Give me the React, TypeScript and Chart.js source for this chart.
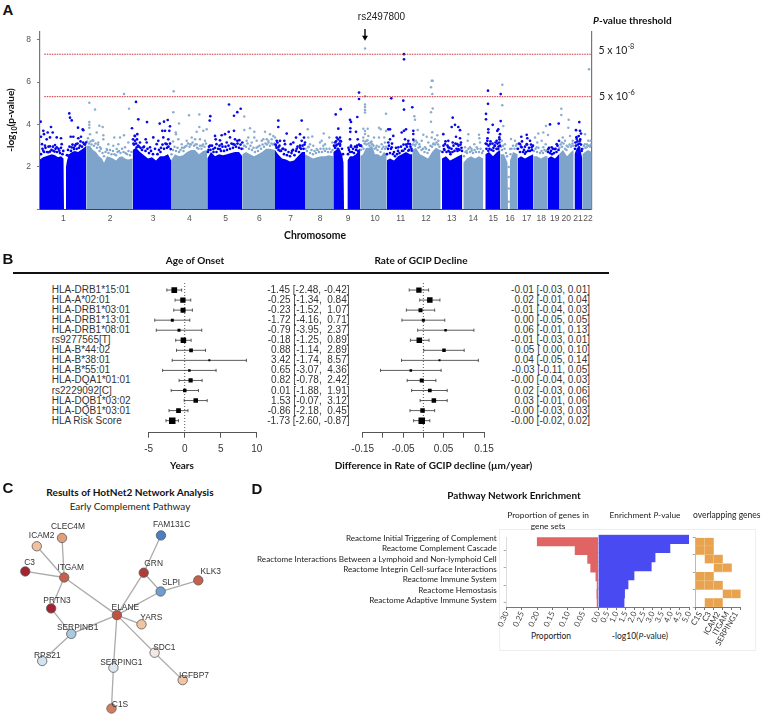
import React, { useEffect, useRef } from "react";
import { Chart, registerables } from "chart.js";
Chart.register(...registerables);

const SANS = '"Liberation Sans", Arial, sans-serif';
const CAL = 'Lato, "Open Sans", sans-serif';

/* ---------- Panel A data: position along genome axis, -log10(p) ---------- */
const chromNames = ["1","2","3","4","5","6","7","8","9","10","11","12","13","14","15","16","17","18","19","20","21","22"];
const chromCenters = [23.3,70,113,149.3,185.7,219.3,250.7,280,308,335,360.7,386,411.7,433.3,453.3,470,486.7,501.3,514.7,526.3,538,548];
const axisMax = 551.7;
const threshold8 = 7.31;
const threshold6 = 5.31;
const leadSnp = 325;

const bodyOdd: number[][] = [
  [0,0, 0,2.35, 3,2.45, 6,2.5, 9,2.55, 12,2.6, 15,2.55, 18,2.45, 21,2.5, 23.5,2.4, 24,0],
  [26,0, 26,2.0, 27,2.3, 29,2.6, 32,2.7, 35,2.75, 38,2.7, 41,2.8, 44,2.9, 46.3,3.0, 46.3,0],
  [92.7,0, 92.7,2.8, 96,2.9, 100,2.7, 104,2.55, 108,2.4, 112,2.45, 116,2.3, 120,2.5, 124,2.5, 128,2.6, 131,2.3, 131,0],
  [167.3,0, 167.3,2.4, 171,2.7, 175,2.5, 179,2.6, 183,2.55, 187,2.6, 191,2.65, 195,2.7, 199,2.7, 202.3,2.5, 202.3,0],
  [235,0, 235,2.8, 238,2.6, 242,2.4, 246,2.35, 250,2.25, 254,2.3, 258,2.5, 262,2.7, 265,2.7, 265,0],
  [293.3,0, 293.3,2.7, 296,2.8, 299,2.9, 302,2.6, 303.5,2.2, 304,0],
  [307.3,0, 307.5,2.3, 310,2.5, 313,2.5, 316,2.6, 320.3,2.9, 320.3,0],
  [346.7,0, 346.7,2.3, 350,2.4, 354,2.3, 358,2.5, 362,2.6, 366,2.7, 370,2.6, 372.3,2.6, 372.3,0],
  [402,0, 402,2.4, 406,2.5, 410,2.3, 414,2.4, 418,2.5, 422.3,2.6, 422.3,0],
  [445.3,0, 445.3,2.6, 449,2.7, 453,2.5, 457,2.7, 460.3,2.8, 460.3,0],
  [477.7,0, 477.7,2.4, 481,2.5, 485,2.4, 489,2.5, 493.3,2.6, 493.3,0],
  [507.7,0, 507.7,2.4, 511,2.5, 515,2.4, 519,2.6, 519,0],
  [534.5,0, 534.5,2.6, 537,2.9, 540,2.9, 542.3,2.4, 542.3,0],
];
const bodyEven: number[][] = [
  [46.3,0, 46.3,3.0, 50,3.0, 53,2.8, 56,2.7, 59,2.5, 62,2.4, 64,2.2, 67,2.5, 70,2.45, 73,2.4, 76,2.3, 79,2.45, 82,2.5, 85,2.4, 88,2.35, 92.7,2.4, 92.7,0],
  [131,0, 131,2.3, 135,2.6, 139,2.5, 143,2.55, 147,2.7, 151,2.8, 155,2.8, 159,2.6, 163,2.75, 167.3,2.8, 167.3,0],
  [202.3,0, 202.3,2.6, 206,2.7, 210,2.6, 214,2.5, 218,2.6, 222,2.7, 226,2.85, 230,2.85, 235,2.8, 235,0],
  [265,0, 265,2.6, 269,2.5, 273,2.4, 277,2.45, 281,2.5, 285,2.5, 289,2.55, 293.3,2.5, 293.3,0],
  [320.3,0, 320.3,2.5, 323,2.6, 326,2.9, 329,2.9, 332,3.0, 335,2.6, 338,2.6, 341,2.5, 344,2.7, 346.7,2.6, 346.7,0],
  [372.3,0, 372.3,2.8, 376,2.9, 380,2.6, 384,2.5, 388,2.4, 392,2.7, 396,2.9, 400,2.8, 400.7,2.3, 400.7,0],
  [423.3,0, 423.3,2.2, 427,2.4, 431,2.5, 435,2.4, 439,2.5, 443.3,2.4, 443.3,0],
  [460.3,0, 460.3,2.6, 464,2.6, 467.5,2.2, 468,0],
  [469.5,0, 470,2.3, 473,2.7, 477.7,2.6, 477.7,0],
  [493.3,0, 493.3,2.5, 497,2.5, 501,2.4, 505,2.5, 507.7,2.5, 507.7,0],
  [519,0, 519,2.6, 523,2.8, 527,2.5, 531,2.7, 533.7,2.8, 533.7,0],
  [542.3,0, 542.3,2.6, 545,2.7, 548,2.8, 551.7,2.7, 551.7,0],
];

const snpsOdd = [
  0.7,4.13, 1,3.42, 3.3,3.7, 4,3.54, 2,3.07, 5,3.0, 6.7,3.3, 7.7,3.62, 11,3.88, 10,3.39, 10,2.97, 12.7,3.62, 15,3.03, 16.7,3.39, 16.7,2.92, 21,3.35, 21.7,3.07, 19.3,2.76, 3.3,2.76, 8.3,2.69, 13.3,2.76,
  29.3,4.52, 30,4.32, 31.7,4.19, 30.7,3.42, 33.3,3.42, 38,3.85, 42.7,3.77, 43.3,3.73, 41,3.42, 38.3,3.35, 36,3.07, 31.7,2.92, 28.3,2.53, 34,2.84, 40,3.0, 44.3,3.07, 46,3.15,
  96,5.06, 98.3,4.24, 92,3.82, 107,4.11, 119.7,4.04, 124,4.13, 127.7,4.21, 122.3,3.7, 125,3.7, 130,3.91, 129.3,3.7, 94.7,3.46, 97.3,3.54, 95,3.23, 100,3.15, 105.7,3.3, 106.7,3.15, 113.3,3.39, 118.3,3.23, 123.3,3.39, 128.3,3.3, 96.7,2.92, 103.3,2.92, 110,2.92, 116.7,3.07, 126.7,3.07, 130.7,2.84, 93.5,3.1, 99,2.95, 121,2.9,
  170.3,4.39, 169.7,4.18, 189,4.94, 194,4.41, 197.3,4.58, 200.7,4.74, 175,3.46, 181.7,3.49, 185,3.54, 188.7,3.65, 194,3.7, 175.7,3.3, 180,3.25, 190,3.39, 195,3.3, 199.3,3.26, 202.3,3.15, 170,3.0, 176.5,3.07, 181.7,3.07, 186.7,3.15, 193.3,3.07, 197.3,3.23, 173.3,2.84, 180,2.84, 168.5,2.8,
  238.3,4.18, 238.3,3.88, 261.7,4.18, 246.7,3.57, 260,3.54, 256,3.38, 264,3.38, 236.7,3.23, 240,3.23, 244.3,3.23, 245,3.07, 250.7,3.07, 253.3,3.15, 261.7,3.23, 265,3.15, 238.3,2.92, 243.3,2.85, 256.7,2.85, 236,3.0, 240,2.75, 252,2.75, 260,2.9,
  295.7,4.47, 300.7,4.72, 298.3,3.8, 300,3.38, 296.7,3.38, 295,3.15, 300,3.23, 296,3.0, 300,3.07, 297.7,2.85,
  310,4.22, 311,4.12, 310.3,3.82, 310.3,3.65, 316,3.65, 317.3,4.35, 319,5.2, 319,5.5, 310,3.3, 317.7,3.3, 311,3.0, 316.7,2.92, 321,3.0, 308.5,2.9,
  364,7.31, 364,7.07, 363.3,5.12, 364,4.7, 372.3,4.81, 351.3,5.23, 366,3.77, 364,3.7, 361.7,3.62, 350,3.77, 348.3,3.77, 353.3,3.46, 350,3.3, 348.3,3.15, 368.3,3.23, 365,3.3, 370,3.07, 351.7,2.92, 358.3,2.92, 363.3,2.76, 368.3,2.76, 371.7,2.76, 373.3,3.7, 373.3,3.55, 373.3,3.28,
  412.7,4.32, 411.7,3.88, 415,3.98, 418.3,3.88, 420,3.73, 403.3,3.54, 416,3.42, 420,3.35, 408.3,3.23, 405,3.07, 404,2.84, 408.3,2.92, 412.7,3.15, 417.3,3.07, 421,3.15, 418.3,2.84, 410,2.69,
  448,5.59, 448,4.97, 446,4.5, 446,4.24, 448.3,3.77, 448.3,3.62, 452.7,3.98, 447.3,3.23, 458.3,3.77, 457.3,3.7, 460,3.54, 460.7,4.16, 460.7,5.43, 459.3,3.39, 456.7,3.23, 459.3,3.15, 455,3.0, 450,3.07, 446.7,3.07, 453.3,2.76, 448.3,2.76, 458.3,2.84,
  481.3,3.42, 486.7,3.51, 487.3,3.35, 480,3.07, 486.7,3.07, 481.7,2.92, 490,3.23, 491.7,2.92, 485,2.62,
  510,4.0, 518.7,4.04, 508.3,2.84, 511.7,2.92, 516.7,3.07, 519,3.23, 515,2.84,
  539.3,4.11, 536,3.73, 540,3.7, 541,3.57, 536.7,3.31, 540,3.23, 536,3.0, 539,2.92, 541.7,2.84, 537.3,2.69,
];
const shoulderOdd = [
  1,2.6, 2.5,2.85, 4,2.7, 5.5,2.9, 7,2.7, 8.5,2.95, 10,2.72, 11.5,2.8, 13,2.95, 14.5,2.72, 15.5,2.85, 17,2.7, 18.5,2.85, 20,2.65, 21,2.9, 22.5,2.6, 23.3,2.75,
  27,2.55, 28,2.8, 29.5,2.95, 31,2.75, 32.5,3.05, 33.7,2.9, 35,3.0, 36.7,2.85, 37.5,3.1, 39,2.9, 40.5,3.2, 42,2.95, 43,3.15, 45,3.05,
  93,3.3, 94,3.05, 95,3.45, 96,3.1, 97,3.3, 98,3.0, 100.5,2.9, 102,2.8, 104,2.95, 105.5,2.75, 107.5,2.85, 109,2.65, 111,2.75, 113,2.6, 115,2.85, 117.5,2.6, 119,2.8, 120.5,2.7, 122.5,3.05, 124,2.85, 125.5,3.1, 127,2.9, 128.5,2.95, 130,3.1,
  168,2.7, 169,2.95, 170.5,2.8, 172,3.0, 173.5,2.7, 175,2.9, 176.5,2.7, 178,2.85, 179.5,3.0, 181,2.75, 182.5,2.95, 184,2.75, 185.5,2.95, 187,2.8, 188.5,3.0, 190,2.85, 191.5,3.1, 193,2.9, 194.5,3.05, 196,2.95, 197.5,3.1, 199,2.9, 200.5,3.05, 201.5,2.85,
  235.5,3.05, 236.5,2.9, 237.5,3.15, 238.5,2.8, 239.5,3.0, 241,2.75, 242.5,2.85, 244,2.6, 245.5,2.8, 247,2.55, 248.5,2.7, 250,2.5, 251.5,2.65, 253,2.8, 254.5,2.55, 256,2.75, 257.5,2.95, 259,2.7, 260,3.0, 261,2.85, 262.5,3.0, 263.5,2.85, 264.5,3.05,
  294,3.0, 295,2.9, 296,3.2, 297,3.05, 298,3.3, 299,3.1, 300,3.0, 301,3.2, 302,2.85, 303,2.6, 308,2.6, 309,2.8, 310,2.7, 311,2.95, 312,2.7, 313,2.85, 314,2.65, 315,2.95, 316,2.8, 317,3.0, 318,2.75, 319,3.05, 320,3.0,
  347,2.6, 348,2.85, 349,3.0, 350,2.65, 351,2.85, 352,3.1, 353,2.6, 354,2.7, 355,2.5, 356,2.9, 357,2.6, 358,2.75, 359.5,2.65, 361,2.95, 362,2.75, 363.5,3.05, 365,2.85, 366,3.05, 367,2.95, 368,3.1, 369,2.8, 370.5,2.95, 371.5,2.85,
  402.5,2.7, 403.5,3.0, 404.5,2.8, 405.5,3.2, 406.5,2.7, 407.5,3.0, 408.5,2.75, 409.5,2.9, 410.5,2.6, 411.5,2.85, 412.5,2.7, 413.5,3.0, 414.5,2.75, 415.5,3.1, 416.5,2.85, 417.5,2.75, 418.5,3.0, 419.5,2.8, 420.5,3.05, 421.5,2.9, 422,2.75,
  445.7,3.1, 446.5,2.85, 447.5,3.35, 448.5,3.0, 449.5,2.85, 450.5,3.2, 451.5,2.8, 452.5,3.1, 453.5,2.9, 454.5,3.0, 455.5,3.15, 456.5,2.85, 457.5,3.1, 458.5,2.95, 459.5,3.3, 460,3.0,
  478,2.85, 479,3.1, 480,2.7, 481,2.95, 482,3.2, 483,2.7, 484,2.8, 485,2.95, 486,2.7, 487,3.05, 488,2.75, 489,2.9, 490,2.75, 491,3.05, 492,2.8, 493,3.0,
  508,2.7, 509,2.9, 510,2.65, 511,2.75, 512,2.6, 513,2.85, 514,2.65, 515.5,2.85, 516.5,2.7, 517.5,3.0, 518.5,2.8,
  535,2.85, 535.5,3.15, 536.5,3.4, 537.5,3.2, 538,3.05, 538.7,3.45, 539.5,3.1, 540.2,3.3, 541,3.05, 541.7,2.75,
];
const snpsEven = [
  49.3,5.02, 49.3,4.11, 49.3,3.98, 49.3,3.85, 55,4.7, 59.3,3.94, 62.7,3.88, 84,5.43, 89,4.74, 56.7,3.62, 50,3.54, 63.3,3.49, 63.3,3.3, 74.3,3.39, 80,3.39, 84,3.49, 53.3,3.23, 58.3,3.15, 68.3,3.07, 73.3,3.0, 78.3,3.07, 88.3,3.15, 60,2.92, 66.7,2.84, 76.7,2.84, 85,2.92,
  133.7,5.57, 133.3,4.57, 139,4.05, 149,4.43, 159.3,4.47, 135.7,3.62, 136,3.54, 159.3,3.88, 156.7,3.66, 166.7,3.77, 163.3,3.7, 138.3,3.3, 146.7,3.23, 151.7,3.39, 155,3.3, 160,3.3, 165,3.23, 141.7,3.07, 150,3.07, 156.7,3.07, 133,3.2, 144,2.9, 162,3.0,
  204.3,4.37, 204.3,3.74, 210,3.82, 214.3,3.65, 225,3.66, 230,3.54, 233.3,3.46, 208.3,3.39, 216.7,3.23, 223.3,3.3, 228.3,3.23, 214.3,3.38, 235,3.38, 206.7,3.23, 211.7,3.15, 221.7,3.23, 226.7,3.3, 231.7,3.3, 218,2.95, 204,3.0,
  267.7,3.77, 268.3,3.38, 272.3,3.43, 283.7,3.57, 289.3,3.38, 281.7,3.23, 280,3.15, 273.3,3.0, 270,3.07, 285,3.07, 268.3,2.92, 276.7,2.84, 283.3,3.0, 292.3,3.15,
  325,7.58, 325,5.33, 325,4.94, 325,4.82, 325,4.68, 325,4.56, 323.3,3.8, 327.7,3.8, 325,3.69, 325,3.55, 323.3,3.38, 328.3,3.46, 326.7,3.23, 323.3,3.23, 339,3.85, 340.7,3.77, 346,4.5, 346,3.69, 334,3.38, 339,3.38, 344.3,3.38, 331.7,3.07, 336.7,3.0, 341.7,3.07, 345,3.15,
  391.7,6.06, 392.7,6.06, 391,5.75, 392.3,5.43, 392.7,4.75, 391,4.58, 391,4.13, 374.3,4.39, 375,4.22, 377.7,3.74, 392.3,3.63, 383.3,3.51, 386.7,3.42, 391.7,3.39, 397.3,3.49, 395,3.3, 376,3.23, 381.7,3.23, 388.3,3.15, 379.3,3.07, 398.3,3.23, 375,3.0, 385,2.92, 393.3,3.07,
  428.3,3.54, 439,3.51, 439.3,3.35, 427.7,3.23, 434.3,3.07, 440,3.15, 425,2.92, 430,2.92, 436.7,2.92, 431.7,2.76, 426.7,2.76,
  462.3,5.87, 462.3,4.9, 463.3,3.93, 471,3.31, 475,3.23, 465,3.07, 470,2.84, 476.7,3.07, 461.7,3.23, 468.7,0.36, 468.7,0.98, 468.7,1.52, 468.7,1.99,
  498.3,3.57, 495,3.39, 503.3,3.62, 506,3.93, 508,3.5, 497.3,3.15, 501.7,3.23, 496.7,2.92, 503.3,2.92, 505.7,3.07,
  521.3,4.74, 521.3,4.44, 528.7,4.22, 528.3,3.85, 522.7,3.39, 530,3.46, 525,3.23, 532.7,3.23, 526.7,3.0, 531.7,3.0, 521.7,3.15,
  549,6.6, 545,3.54, 548.3,3.23, 550.7,3.23, 545,3.07, 546.7,2.92, 550,3.0,
];
const shoulderEven = [
  47,3.2, 48,3.35, 49,3.1, 50.5,3.2, 51.5,3.05, 52.5,3.25, 54,3.0, 55.5,3.1, 57,2.9, 58,3.05, 59.5,2.75, 61,2.85, 62.5,2.65, 64,2.5, 65.5,2.7, 67,2.8, 68.5,2.65, 70,2.8, 71.5,2.6, 73,2.75, 74.5,2.6, 76,2.55, 77.5,2.7, 79,2.75, 80.5,2.65, 82,2.85, 83.5,2.7, 85.5,2.65, 87,2.6, 88.5,2.75, 90,2.55, 91.5,2.7,
  131.5,2.6, 133,2.8, 134.5,2.95, 136,2.75, 137.5,2.9, 139,2.7, 140.5,2.8, 142,2.9, 143.5,2.75, 145,2.95, 146.5,3.0, 148,3.1, 149.5,2.95, 151,3.05, 152.5,3.15, 154,3.0, 155.5,3.05, 157,2.9, 158.5,2.85, 160,3.0, 161.5,2.85, 163,3.05, 164.5,2.95, 166,3.1,
  203,2.85, 204.5,3.0, 206,2.95, 207.5,3.1, 209,2.85, 210.5,3.0, 212,2.8, 213.5,2.9, 215,2.7, 216.5,2.9, 218,2.75, 219.5,3.0, 221,2.85, 222.5,3.05, 224,2.95, 225.5,3.1, 227,3.05, 228.5,3.15, 230,3.0, 231.5,3.1, 233,3.05, 234.5,3.1,
  265.5,2.85, 267,2.75, 268.5,2.95, 270,2.65, 271.5,2.8, 273,2.6, 274.5,2.75, 276,2.65, 277.5,2.8, 279,2.7, 280.5,2.85, 282,2.7, 283.5,2.85, 285,2.75, 286.5,2.85, 288,2.7, 289.5,2.85, 291,2.7, 292.5,2.8,
  321,2.8, 322,2.95, 323.5,2.85, 324.5,3.1, 325.5,3.2, 326.5,3.05, 327.5,3.25, 328.5,3.1, 329.5,3.0, 330.5,3.15, 331.5,3.2, 332.5,3.05, 333.5,3.0, 334.5,2.85, 336,2.9, 337.5,2.8, 339,2.95, 340.5,2.7, 342,2.85, 343.5,2.95, 345,2.85, 346.3,2.95,
  373,3.05, 374,3.2, 375.5,3.05, 377,3.15, 378.5,2.9, 380,2.95, 381.5,2.8, 383,2.85, 384.5,2.7, 386,2.85, 387.5,2.65, 389,2.8, 390.5,3.0, 392,2.95, 393.5,3.1, 395,3.05, 396.5,3.15, 398,3.05, 399.5,2.95, 400.3,2.75,
  424,2.5, 425.5,2.7, 427,2.65, 428.5,2.85, 430,2.7, 431.5,2.85, 433,2.65, 434.5,2.8, 436,2.7, 437.5,2.85, 439,2.7, 440.5,2.85, 442,2.65, 443,2.75,
  461,2.95, 462,2.8, 463,3.0, 464.5,2.85, 466,2.65, 467,2.5, 470.5,2.6, 471.5,2.85, 473,3.0, 474.5,2.85, 476,3.0, 477,2.85,
  494,2.75, 495.5,2.85, 497,2.7, 498.5,2.9, 500,2.65, 501.5,2.75, 503,2.65, 504.5,2.8, 506,2.75, 507.2,2.8,
  519.5,2.9, 520.5,3.05, 522,2.95, 523.5,3.1, 525,2.85, 526.5,2.8, 528,2.95, 529.5,3.05, 531,2.95, 532.5,3.1, 533.3,3.0,
  543,2.85, 544,3.0, 545.5,2.9, 547,3.05, 548.5,3.0, 550,2.95, 551,3.05,
];

/* ---------- Panel B data ---------- */
const hlaNames = ["HLA-DRB1*15:01","HLA-A*02:01","HLA-DRB1*03:01","HLA-DRB1*13:01","HLA-DRB1*08:01","rs9277565[T]","HLA-B*44:02","HLA-B*38:01","HLA-B*55:01","HLA-DQA1*01:01","rs2229092[C]","HLA-DQB1*03:02","HLA-DQB1*03:01","HLA Risk Score"];
const ageText = ["-1.45 [-2.48, -0.42]","-0.25 [-1.34,  0.84]","-0.23 [-1.52,  1.07]","-1.72 [-4.16,  0.71]","-0.79 [-3.95,  2.37]","-0.18 [-1.25,  0.89]","0.88 [-1.14,  2.89]","3.42 [-1.74,  8.57]","0.65 [-3.07,  4.36]","0.82 [-0.78,  2.42]","0.01 [-1.88,  1.91]","1.53 [-0.07,  3.12]","-0.86 [-2.18,  0.45]","-1.73 [-2.60, -0.87]"];
const ageEst = [-1.45,-0.25,-0.23,-1.72,-0.79,-0.18,0.88,3.42,0.65,0.82,0.01,1.53,-0.86,-1.73];
const ageLo = [-2.48,-1.34,-1.52,-4.16,-3.95,-1.25,-1.14,-1.74,-3.07,-0.78,-1.88,-0.07,-2.18,-2.60];
const ageHi = [-0.42,0.84,1.07,0.71,2.37,0.89,2.89,8.57,4.36,2.42,1.91,3.12,0.45,-0.87];
const ageWeight = [5.7,5.3,5,3,3,5.5,3.7,2,2.5,4.2,3.5,4.5,4.7,6.5];
const rateText = ["-0.01 [-0.03, 0.01]","0.02 [-0.01, 0.04]","-0.01 [-0.04, 0.03]","0.00 [-0.05, 0.05]","0.06 [-0.01, 0.13]","-0.01 [-0.03, 0.01]","0.05 [ 0.00, 0.10]","0.04 [-0.05, 0.14]","-0.03 [-0.11, 0.05]","-0.00 [-0.04, 0.03]","0.02 [-0.03, 0.06]","0.03 [-0.01, 0.06]","-0.00 [-0.03, 0.03]","-0.00 [-0.02, 0.02]"];
const rateEst = [-0.011,0.016,-0.007,0,0.055,-0.010,0.051,0.040,-0.031,-0.004,0.016,0.026,-0.002,-0.004];
const rateLo = [-0.035,-0.009,-0.042,-0.053,-0.014,-0.032,0.001,-0.054,-0.106,-0.040,-0.029,-0.008,-0.033,-0.024];
const rateHi = [0.013,0.041,0.028,0.053,0.125,0.014,0.101,0.136,0.044,0.031,0.059,0.059,0.028,0.016];
const rateWeight = [5.3,5.5,4,3,2.5,5.5,3.5,2,2.5,4,3.7,4.5,4.5,6.5];

/* ---------- Panel C data (layout units) ---------- */
const geneNames = ["FAM131C","CLEC4M","ICAM2","C3","ITGAM","GRN","KLK3","SLPI","PRTN3","ELANE","YARS","SERPINB1","SDC1","RPS21","SERPING1","IGFBP7","C1S"];
const geneX = [487,177,98,62,184,433,604,486,143,349,426,206,467,115,338,555,332];
const geneY = [188,196,222,301,320,305,329,364,417,438,467,497,556,582,603,642,731];
const geneColor = ["#4a7fc1","#e0a07c","#f0c09f","#a5222e","#c6604e","#b33a3a","#c4604c","#6f9fd0","#a52230","#c4503f","#f0c4a0","#a9c9e3","#f3e9e2","#d3e2ef","#dbe7f1","#f0c4a4","#d08060"];
const edges = [["FAM131C","GRN"],["GRN","ELANE"],["GRN","SLPI"],["SLPI","KLK3"],["SLPI","ELANE"],["CLEC4M","ITGAM"],["ICAM2","ITGAM"],["C3","ITGAM"],["ITGAM","ELANE"],["ITGAM","PRTN3"],["PRTN3","SERPINB1"],["SERPINB1","ELANE"],["SERPINB1","RPS21"],["ELANE","YARS"],["ELANE","SDC1"],["SDC1","IGFBP7"],["ELANE","SERPING1"],["SERPING1","C1S"]];
const geneLabelX = [515,204,125,89,212,461,632,513,171,376,454,233,493,142,364,582,360];
const geneLabelY = [163,169,195,276,292,279,302,337,390,412,440,472,530,555,577,615,703];

/* ---------- Panel D data ---------- */
const pathwayNames = ["Reactome Initial Triggering of Complement","Reactome Complement Cascade","Reactome Interactions Between a Lymphoid and Non-lymphoid Cell","Reactome Integrin Cell-surface Interactions","Reactome Immune System","Reactome Hemostasis","Reactome Adaptive Immune System"];
const enrichRows = ["r1","r2","r3","r4","r5","r6","r7","r8"];
const proportion = [0.20,0.076,0.035,0.025,0.008,0.004,0.005,0.004];
const enrichP = [5.0,3.95,3.13,2.92,1.97,1.64,1.45,1.42];
const overlapGenes = ["C1S","C3","ICAM2","ITGAM","SERPING1"];
const overlap = [
  [1,1,0,0,0],
  [1,1,0,0,0],
  [0,1,1,0,0],
  [0,0,1,1,0],
  [1,1,0,0,0],
  [1,1,1,0,0],
  [0,0,0,1,1],
  [0,1,1,0,0],
];

/* ---------- helpers ---------- */
const toPts = (flat: number[]) => {
  const out: { x: number; y: number }[] = [];
  for (let i = 0; i < flat.length; i += 2) out.push({ x: flat[i], y: flat[i + 1] });
  return out;
};

function ChartCanvas({ left, top, width, height, config }: any) {
  const ref = useRef<HTMLCanvasElement>(null);
  useEffect(() => {
    const chart = new Chart(ref.current as HTMLCanvasElement, config());
    return () => chart.destroy();
  }, []);
  return <canvas ref={ref} width={width} height={height} style={{ position: "absolute", left, top, width, height }} />;
}

function T({ x, y, a = "c", s, f = SANS, b, c = "#222", children }: any) {
  const tx = a === "c" ? "-50%" : a === "r" ? "-100%" : "0";
  return (
    <div style={{ position: "absolute", left: x, top: y, transform: `translate(${tx},-50%)`, fontFamily: f, fontSize: s, fontWeight: b ? 700 : 400, color: c, whiteSpace: "pre", lineHeight: 1 }}>
      {children}
    </div>
  );
}

const manhattanConfig = () => {
  const datasets: any[] = [];
  const dash = (v: number) => ({ type: "line", data: [{ x: 4.3, y: v }, { x: axisMax, y: v }], borderColor: "#d0303a", borderWidth: 1, borderDash: [1.5, 1], pointRadius: 0 });
  datasets.push(dash(threshold8), dash(threshold6));
  datasets.push({
    type: "line", clip: false,
    data: [{ x: leadSnp, y: 8.5 }, { x: leadSnp, y: 8.1 }],
    borderColor: "#000", borderWidth: 1.4,
    pointStyle: "triangle", pointRotation: 180, pointBackgroundColor: "#000", pointBorderWidth: 0,
    pointRadius: [0, 3.4],
  });
  datasets.push({ type: "scatter", data: toPts(snpsOdd), pointRadius: 1.35, pointBorderWidth: 0, backgroundColor: "#0a0ae6" });
  datasets.push({ type: "scatter", data: toPts(shoulderOdd), pointRadius: 1.35, pointBorderWidth: 0, backgroundColor: "#0000f2" });
  datasets.push({ type: "scatter", data: toPts(snpsEven), pointRadius: 1.25, pointBorderWidth: 0, backgroundColor: "#8aadd0" });
  datasets.push({ type: "scatter", data: toPts(shoulderEven), pointRadius: 1.25, pointBorderWidth: 0, backgroundColor: "#84a8ce" });
  const addBody = (flat: number[], color: string) =>
    datasets.push({ type: "line", data: toPts(flat), borderWidth: 0, pointRadius: 0, fill: "origin", backgroundColor: color, borderColor: color, tension: 0 });
  bodyOdd.forEach((b) => addBody(b, "#0000f2"));
  bodyEven.forEach((b) => addBody(b, "#7fa4cc"));
  return {
    type: "scatter",
    data: { datasets },
    options: {
      animation: false, responsive: false, maintainAspectRatio: false,
      layout: { padding: { top: 9, right: 8.3, left: 0, bottom: 0 } },
      plugins: { legend: { display: false }, tooltip: { enabled: false } },
      scales: {
        x: {
          type: "linear", min: 0, max: axisMax,
          afterBuildTicks: (s: any) => { s.ticks = chromCenters.map((v) => ({ value: v })); },
          afterFit: (s: any) => { s.height = 25.7; s.paddingLeft = 0; s.paddingRight = 0; },
          grid: { display: false, drawTicks: false },
          border: { color: "#444", width: 1 },
          ticks: { autoSkip: false, maxRotation: 0, padding: 4, font: { family: SANS, size: 8.5 }, color: "#555", callback: (_v: any, i: number) => chromNames[i] },
        },
        y: {
          min: 0, max: 8.4,
          afterFit: (s: any) => { s.width = 40; },
          grid: { drawOnChartArea: false, tickLength: 3, color: "#777" },
          border: { color: "#777", width: 1.2 },
          ticks: { stepSize: 2, includeBounds: false, padding: 6, font: { family: SANS, size: 8.5 }, color: "#555", callback: (v: number) => (v === 0 ? "" : String(v)) },
        },
        y2: {
          position: "right", min: 0, max: 8.4,
          afterFit: (s: any) => { s.width = 0; },
          grid: { display: false, drawTicks: false },
          border: { color: "#777", width: 1.2 },
          ticks: { display: false },
        },
      },
    },
  };
};

const forestConfig = (est: number[], lo: number[], hi: number[], wt: number[], min: number, max: number, step: number, labelFn: (v: number, i: number) => string, padLeft: number, padRight: number) => () => {
  const datasets: any[] = [];
  datasets.push({
    type: "scatter",
    data: est.map((e, i) => ({ x: e, y: i })),
    pointStyle: "rect",
    pointRadius: wt.map((w) => w / Math.SQRT2),
    backgroundColor: "#000", pointBorderWidth: 0,
  });
  est.forEach((_e, i) => {
    datasets.push({
      type: "line",
      data: [{ x: lo[i], y: i }, { x: hi[i], y: i }],
      borderColor: "#333", borderWidth: 0.8,
      pointStyle: "line", pointRotation: 90, pointRadius: 1.6, pointBorderWidth: 0.8, pointBorderColor: "#333",
    });
  });
  datasets.push({ type: "line", data: [{ x: 0, y: -0.7 }, { x: 0, y: 14.2 }], borderColor: "#555", borderWidth: 1, borderDash: [1, 2], pointRadius: 0 });
  return {
    type: "scatter",
    data: { datasets },
    options: {
      animation: false, responsive: false, maintainAspectRatio: false,
      layout: { padding: { top: 5, left: padLeft, right: padRight, bottom: 0 } },
      plugins: { legend: { display: false }, tooltip: { enabled: false } },
      scales: {
        y: { display: false, reverse: true, min: -1, max: 14.2 },
        x: {
          type: "linear", min, max,
          afterFit: (s: any) => { s.height = 27.3; s.paddingLeft = 0; s.paddingRight = 0; },
          grid: { drawOnChartArea: false, tickLength: 5, color: "#555" },
          border: { color: "#555", width: 1 },
          ticks: { stepSize: step, autoSkip: false, maxRotation: 0, padding: 6, font: { family: SANS, size: 10 }, color: "#333", callback: labelFn },
        },
      },
    },
  };
};

const networkConfig = () => {
  const idx = (n: string) => geneNames.indexOf(n);
  const datasets: any[] = [];
  datasets.push({
    type: "scatter",
    data: geneNames.map((_n, i) => ({ x: geneX[i], y: geneY[i] })),
    pointRadius: 4.7, pointBorderWidth: 0.8, pointBorderColor: "#5a5a5a",
    pointBackgroundColor: geneColor,
  });
  edges.forEach(([a, b]) => {
    datasets.push({ type: "line", data: [{ x: geneX[idx(a)], y: geneY[idx(a)] }, { x: geneX[idx(b)], y: geneY[idx(b)] }], borderColor: "#ababab", borderWidth: 1.3, pointRadius: 0 });
  });
  return {
    type: "scatter",
    data: { datasets },
    options: {
      animation: false, responsive: false, maintainAspectRatio: false,
      layout: { padding: 0 },
      plugins: { legend: { display: false }, tooltip: { enabled: false } },
      scales: {
        x: { display: false, min: 0, max: 780 },
        y: { display: false, min: 0, max: 753, reverse: true },
      },
    },
  };
};

const rowAxis = (width: number, show: boolean) => ({
  display: show,
  afterFit: (s: any) => { s.width = width; },
  grid: { drawOnChartArea: false, tickLength: 3, color: "#aaa" },
  border: { color: "#ddd" },
  ticks: { callback: () => "", padding: 0 },
});

const bottomTicks = (step: number, cb: any) => ({
  grid: { drawOnChartArea: false, tickLength: 3, color: "#777" },
  border: { color: "#777" },
  afterFit: (s: any) => { s.height = 25; s.paddingLeft = 0; s.paddingRight = 0; },
  ticks: { stepSize: step, autoSkip: false, minRotation: 65, maxRotation: 65, padding: 0, font: { family: CAL, size: 8 }, color: "#444", callback: cb },
});

const propConfig = () => ({
  type: "bar",
  data: { labels: enrichRows, datasets: [{ data: proportion, backgroundColor: "#e06464", barPercentage: 1, categoryPercentage: 1 }] },
  options: {
    indexAxis: "y", animation: false, responsive: false, maintainAspectRatio: false,
    layout: { padding: { top: 4.7, right: 1.7 } },
    plugins: { legend: { display: false }, tooltip: { enabled: false } },
    scales: {
      y: rowAxis(16.7, true),
      x: { min: 0, max: 0.3, reverse: true, ...bottomTicks(0.05, (v: number) => (Math.abs(v) < 1e-6 ? "" : v.toFixed(2))) },
    },
  },
});

const pvalConfig = () => ({
  type: "bar",
  data: { labels: enrichRows, datasets: [{ data: enrichP, backgroundColor: "#4a4af2", barPercentage: 1, categoryPercentage: 1 }] },
  options: {
    indexAxis: "y", animation: false, responsive: false, maintainAspectRatio: false,
    layout: { padding: { top: 4.7, left: 18.3, right: 11 } },
    plugins: { legend: { display: false }, tooltip: { enabled: false } },
    scales: {
      y: { display: false },
      x: { min: 0, max: 5, ...bottomTicks(0.5, (v: number) => v.toFixed(1)) },
    },
  },
});

const heatConfig = () => ({
  type: "bar",
  data: {
    labels: overlapGenes,
    datasets: overlap.map((row, r) => ({
      data: row.map((m) => (m ? [r, r + 1] : null)),
      backgroundColor: "#e8a350", borderColor: "#f2c78e", borderWidth: 0.6,
      barPercentage: 1, categoryPercentage: 1, grouped: false,
    })),
  },
  options: {
    animation: false, responsive: false, maintainAspectRatio: false,
    layout: { padding: { top: 4.7, right: 9.3 } },
    plugins: { legend: { display: false }, tooltip: { enabled: false } },
    scales: {
      y: {
        type: "linear", min: 0, max: 8, reverse: true,
        afterFit: (s: any) => { s.width = 25.7; },
        grid: { drawOnChartArea: false, tickLength: 3, color: "#aaa" },
        border: { color: "#bbb" },
        ticks: { stepSize: 1, callback: () => "", padding: 0 },
      },
      x: {
        type: "category",
        grid: { drawOnChartArea: false, tickLength: 3, color: "#777", offset: true },
        border: { color: "#777" },
        afterFit: (s: any) => { s.height = 42; s.paddingLeft = 0; s.paddingRight = 0; },
        ticks: { autoSkip: false, minRotation: 60, maxRotation: 60, padding: 0, font: { family: CAL, size: 8 }, color: "#333" },
      },
    },
  },
});

const sup = (t: string) => <sup style={{ fontSize: "70%", lineHeight: 0 }}>{t}</sup>;

export default function App() {
  return (
    <div style={{ position: "absolute", left: 0, top: 0, width: 763, height: 721, overflow: "hidden", background: "#fff" }}>
      {/* Panel A */}
      <ChartCanvas left={0} top={20} width={600} height={215} config={manhattanConfig} />
      <T x={8} y={9} s={15} b c="#111">A</T>
      <T x={381.5} y={17} s={10}>rs2497800</T>
      <T x={593} y={20} a="l" s={10.1} f={CAL} b c="#111"><i>P</i>-value threshold</T>
      <T x={598.5} y={50} a="l" s={10.5} f={CAL}>5 x 10{sup("-8")}</T>
      <T x={599} y={95.5} a="l" s={10.5} f={CAL}>5 x 10{sup("-6")}</T>
      <T x={315} y={234.5} s={10.4} f={CAL} b c="#111">Chromosome</T>
      <div style={{ position: "absolute", left: 10, top: 120, transform: "translate(-50%,-50%) rotate(-90deg)", fontFamily: CAL, fontSize: 10, fontWeight: 700, color: "#111", whiteSpace: "pre", lineHeight: 1 }}>
        -log<sub style={{ fontSize: "70%", lineHeight: 0 }}>10</sub>(p-value)
      </div>

      {/* Panel B */}
      <T x={8} y={258} s={15} b c="#111">B</T>
      <T x={195} y={259.5} s={10} f={CAL} b c="#111">Age of Onset</T>
      <T x={421} y={259.5} s={10} f={CAL} b c="#111">Rate of GCIP Decline</T>
      <div style={{ position: "absolute", left: 13, top: 272, width: 596, height: 2, background: "#111" }} />
      <ChartCanvas left={140} top={275} width={130} height={185}
        config={forestConfig(ageEst, ageLo, ageHi, ageWeight, -5, 10, 5, (v: number) => String(v), 8.7, 13.3)} />
      <ChartCanvas left={350} top={275} width={150} height={185}
        config={forestConfig(rateEst, rateLo, rateHi, rateWeight, -0.15, 0.15, 0.05, (v: number, i: number) => (i % 2 === 0 ? v.toFixed(2) : ""), 12.7, 16)} />
      {hlaNames.map((n, i) => <T key={n} x={51.7} y={290 + 10.05 * i} a="l" s={10} c="#333">{n}</T>)}
      {ageText.map((n, i) => <T key={i} x={349.5} y={290 + 10.05 * i} a="r" s={10} c="#333">{n}</T>)}
      {rateText.map((n, i) => <T key={i} x={590} y={290 + 10.05 * i} a="r" s={10} c="#333">{n}</T>)}
      <T x={182} y={465} s={10} f={CAL} b c="#111">Years</T>
      <T x={433.5} y={465} s={10} f={CAL} b c="#111">Difference in Rate of GCIP decline (µm/year)</T>

      {/* Panel C */}
      <T x={8} y={487} s={15} b c="#111">C</T>
      <T x={130} y={492} s={10.1} f={CAL} b c="#111">Results of HotNet2 Network Analysis</T>
      <T x={130} y={505.7} s={10} f={CAL} c="#222">Early Complement Pathway</T>
      <ChartCanvas left={0} top={470} width={260} height={251} config={networkConfig} />
      {geneNames.map((n, i) => <T key={n} x={geneLabelX[i] / 3} y={470 + geneLabelY[i] / 3} s={8.4} c="#333">{n}</T>)}

      {/* Panel D */}
      <T x={257} y={488} s={15} b c="#111">D</T>
      <T x={514} y={494.7} s={10} f={CAL} b c="#111">Pathway Network Enrichment</T>
      <div style={{ position: "absolute", left: 499, top: 529, width: 257, height: 122, border: "1px solid #eeeeee", boxSizing: "border-box" }} />
      <T x={548} y={514.7} s={8.4} f={CAL}>Proportion of genes in</T>
      <T x={548} y={526.3} s={8.4} f={CAL}>gene sets</T>
      <T x={645} y={514.7} s={8.3} f={CAL}>Enrichment <i>P</i>-value</T>
      <T x={726.7} y={514.7} s={8.5} f={CAL}>overlapping genes</T>
      {pathwayNames.map((n, i) => <T key={n} x={496.7} y={537.7 + 10.43 * i} a="r" s={8.1} f={CAL} c="#222">{n}</T>)}
      <T x={551} y={636.3} s={8.5} f={CAL}>Proportion</T>
      <T x={640} y={636.3} s={8.5} f={CAL}>-log10(<i>P</i>-value)</T>
      <ChartCanvas left={490} top={530} width={110} height={102} config={propConfig} />
      <ChartCanvas left={580} top={530} width={120} height={102} config={pvalConfig} />
      <ChartCanvas left={670} top={530} width={80} height={119} config={heatConfig} />
    </div>
  );
}
